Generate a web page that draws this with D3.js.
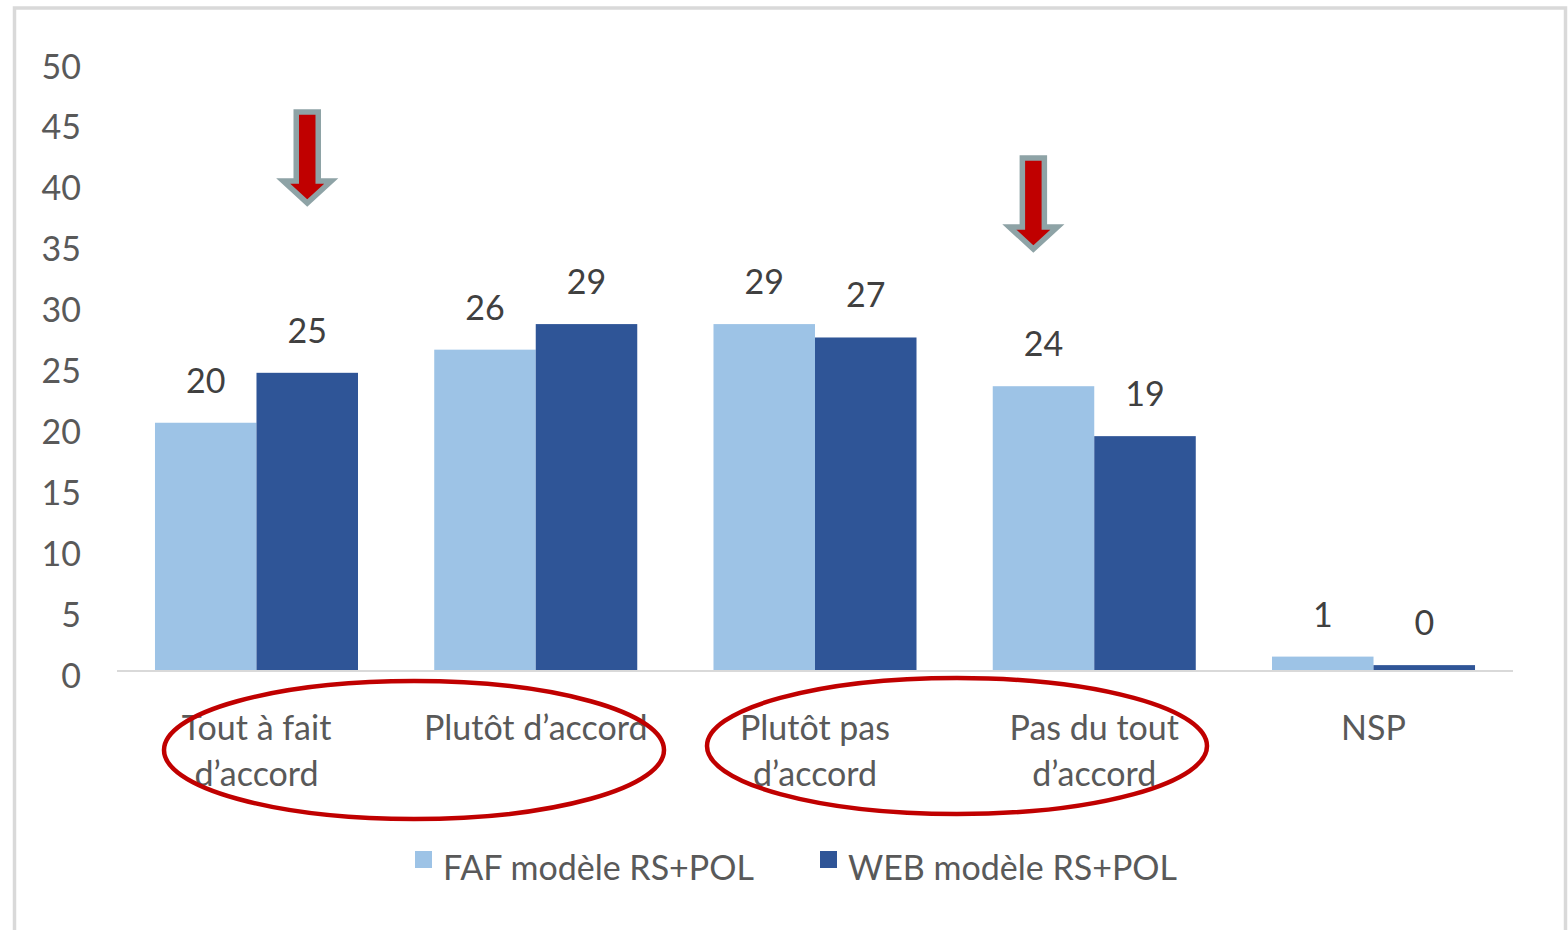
<!DOCTYPE html>
<html lang="fr">
<head>
  <meta charset="UTF-8">
  <title>FAF vs WEB modèle RS+POL</title>
  <script src="https://d3js.org/d3.v7.min.js"></script>
  <style>
    body { margin: 0; background: #fff; }
    svg text { font-family: Lato, "Open Sans", sans-serif; }
  </style>
</head>
<body>
  <div id="chart"></div>
  <script>
    // data
    var categories = [["Tout à fait", "d’accord"], ["Plutôt d’accord"], ["Plutôt pas", "d’accord"], ["Pas du tout", "d’accord"], ["NSP"]];
    var seriesNames = ["FAF modèle RS+POL", "WEB modèle RS+POL"];
    var fafValues = [20.3, 26.3, 28.4, 23.3, 1.1];
    var webValues = [24.4, 28.4, 27.3, 19.2, 0.4];
    var fafLabels = ["20", "26", "29", "24", "1"];
    var webLabels = ["25", "29", "27", "19", "0"];
    var yTicks = [0, 5, 10, 15, 20, 25, 30, 35, 40, 45, 50];

    var colors = ["#9dc3e6", "#2f5597"];
    var W = 1568, H = 930;

    var svg = d3.select("#chart").append("svg")
      .attr("width", W)
      .attr("height", H);

    // outer frame
    svg.append("rect")
      .attr("x", 14.5).attr("y", 8)
      .attr("width", 1551).attr("height", 940)
      .attr("fill", "none")
      .attr("stroke", "#d9d9d9")
      .attr("stroke-width", 3.5);

    var catIds = categories.map(function(c, i) { return i; });

    var x0 = d3.scaleBand()
      .domain(catIds)
      .range([117, 1513])
      .paddingInner(0.273)
      .paddingOuter(0.136);

    var x1 = d3.scaleBand()
      .domain([0, 1])
      .range([0, x0.bandwidth()]);

    var y = d3.scaleLinear()
      .domain([0, 50])
      .range([670, 61]);

    // y axis labels only (no line, no ticks)
    var yAxis = svg.append("g")
      .attr("transform", "translate(81,0)")
      .call(d3.axisLeft(y).tickValues(yTicks).tickSize(0).tickPadding(0));
    yAxis.select(".domain").remove();
    yAxis.selectAll("text")
      .attr("dy", "0.5em")
      .attr("fill", "#595959")
      .style("font-size", "34px");

    // bars
    var rows = catIds.map(function(i) {
      return [
        {cat: i, s: 0, v: fafValues[i], label: fafLabels[i]},
        {cat: i, s: 1, v: webValues[i], label: webLabels[i]}
      ];
    });

    var groups = svg.selectAll("g.grp")
      .data(rows)
      .enter().append("g")
        .attr("class", "grp")
        .attr("transform", function(d, i) { return "translate(" + x0(i) + ",0)"; });

    groups.selectAll("rect")
      .data(function(d) { return d; })
      .enter().append("rect")
        .attr("x", function(d) { return x1(d.s); })
        .attr("y", function(d) { return y(d.v); })
        .attr("width", x1.bandwidth())
        .attr("height", function(d) { return y(0) - y(d.v); })
        .attr("fill", function(d) { return colors[d.s]; });

    groups.selectAll("text")
      .data(function(d) { return d; })
      .enter().append("text")
        .attr("x", function(d) { return x1(d.s) + x1.bandwidth() / 2; })
        .attr("y", function(d) { return y(d.v) - 30; })
        .attr("text-anchor", "middle")
        .attr("fill", "#404040")
        .style("font-size", "34px")
        .text(function(d) { return d.label; });

    // x axis line (no ticks)
    svg.append("line")
      .attr("x1", x0.range()[0]).attr("x2", x0.range()[1])
      .attr("y1", y(0) + 1).attr("y2", y(0) + 1)
      .attr("stroke", "#d9d9d9")
      .attr("stroke-width", 2);

    // category labels
    var catText = svg.selectAll("text.cat")
      .data(categories)
      .enter().append("text")
        .attr("class", "cat")
        .attr("x", function(d, i) { return x0(i) + x0.bandwidth() / 2; })
        .attr("y", 740)
        .attr("text-anchor", "middle")
        .attr("fill", "#595959")
        .style("font-size", "34px");
    catText.selectAll("tspan")
      .data(function(d) { return d; })
      .enter().append("tspan")
        .attr("x", function() { return d3.select(this.parentNode).attr("x"); })
        .attr("dy", function(d, i) { return i === 0 ? 0 : 46; })
        .text(function(d) { return d; });

    // legend
    var legendX = [415, 820];
    var legend = svg.selectAll("g.leg")
      .data(seriesNames)
      .enter().append("g")
        .attr("class", "leg")
        .attr("transform", function(d, i) { return "translate(" + legendX[i] + ",851)"; });
    legend.append("rect")
      .attr("width", 17).attr("height", 17)
      .attr("fill", function(d, i) { return colors[i]; });
    legend.append("text")
      .attr("x", 28).attr("y", 29)
      .attr("fill", "#595959")
      .style("font-size", "34px")
      .text(function(d) { return d; });

    // annotations: red ellipses round the labels
    var ellipses = [{cx: 414, cy: 750, rx: 250, ry: 69}, {cx: 957, cy: 746, rx: 250, ry: 68}];
    svg.selectAll("ellipse")
      .data(ellipses)
      .enter().append("ellipse")
        .attr("cx", function(d) { return d.cx; })
        .attr("cy", function(d) { return d.cy; })
        .attr("rx", function(d) { return d.rx; })
        .attr("ry", function(d) { return d.ry; })
        .attr("fill", "none")
        .attr("stroke", "#c00000")
        .attr("stroke-width", 4.5);

    // annotations: down arrows
    var arrows = [
      {x: x0(0) + x0.bandwidth() * 0.75, top: 112},
      {x: x0(3) + x0.bandwidth() * 0.2, top: 158}
    ];
    function arrowPath(cx, top) {
      var sw = 11, hw = 24, shaft = 69, head = 22;
      return "M" + (cx - sw) + "," + top +
        "H" + (cx + sw) +
        "V" + (top + shaft) +
        "H" + (cx + hw) +
        "L" + cx + "," + (top + shaft + head) +
        "L" + (cx - hw) + "," + (top + shaft) +
        "H" + (cx - sw) + "Z";
    }
    svg.selectAll("path.arrow")
      .data(arrows)
      .enter().append("path")
        .attr("class", "arrow")
        .attr("d", function(d) { return arrowPath(d.x, d.top); })
        .attr("fill", "#c00000")
        .attr("stroke", "#8ea3a6")
        .attr("stroke-width", 5.5)
        .attr("stroke-linejoin", "miter");
  </script>
</body>
</html>
